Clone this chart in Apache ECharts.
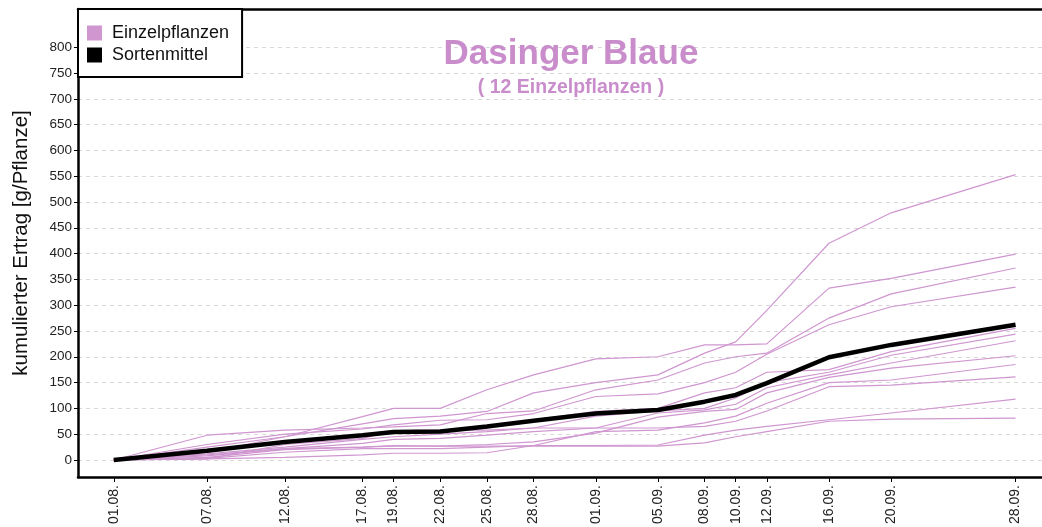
<!DOCTYPE html>
<html>
<head>
<meta charset="utf-8">
<script src="https://cdn.jsdelivr.net/npm/echarts@6/dist/echarts.min.js"></script>
<style>
html,body{margin:0;padding:0;background:#fff;}
#chart{width:1042px;height:527px;}
</style>
</head>
<body>
<div id="chart"></div>
<script>
// ---- data ----
const dateLabels = ['01.08.','07.08.','12.08.','17.08.','19.08.','22.08.','25.08.','28.08.','01.09.','05.09.','08.09.','10.09.','12.09.','16.09.','20.09.','28.09.'];
const dayOffsets = [0,6,11,16,18,21,24,27,31,35,38,40,42,46,50,58];
const yTicks = [0,50,100,150,200,250,300,350,400,450,500,550,600,650,700,750,800];

const plant01 = [0,25,45,70,80,85,94,130,150,165,207,229,290,420,479,553];
const plant02 = [0,15,45,84,100,100,136,165,196,200,223,223,225,333,352,399];
const plant03 = [0,48,58,62,64,68,90,95,136,155,188,200,207,275,322,372];
const plant04 = [0,30,50,60,68,77,78,90,123,128,150,170,205,262,297,335];
const plant05 = [0,20,35,48,54,55,62,78,94,100,130,140,170,175,210,255];
const plant06 = [0,12,25,40,45,50,55,62,85,95,100,120,150,170,203,244];
const plant07 = [0,8,22,32,40,42,48,55,62,91,97,108,140,165,188,231];
const plant08 = [0,5,20,25,28,27,30,35,52,83,94,98,130,160,178,202];
const plant09 = [0,3,15,22,22,22,25,28,55,58,72,85,110,150,155,185];
const plant10 = [0,2,30,42,57,58,58,62,62,62,65,75,95,142,145,161];
const plant11 = [0,2,5,10,13,13,14,28,28,29,48,58,65,78,91,118];
const plant12 = [0,10,22,25,27,27,27,27,27,27,33,45,55,75,79,81];
const plants = [plant01,plant02,plant03,plant04,plant05,plant06,plant07,plant08,plant09,plant10,plant11,plant12];
const meanValues = [0,18,35,48,54,55,65,76,90,97,113,126,149,199,223,262];

// ---- chart ----
const PINK = '#cf96d0';
const FONT = 'Liberation Sans, Arial, sans-serif';
const toPts = vals => dayOffsets.map((d,i)=>[d, vals[i]]);

const series = plants.map(p => ({
  name: 'Einzelpflanzen', type: 'line', data: toPts(p), showSymbol: false, symbol: 'none',
  lineStyle: {color: PINK, width: 1.2}, itemStyle: {color: PINK}, z: 2, silent: true
}));
series.push({
  name: 'Sortenmittel', type: 'line', data: toPts(meanValues), showSymbol: false, symbol: 'none',
  lineStyle: {color: '#000', width: 4.5}, itemStyle: {color: '#000'}, z: 3, silent: true
});

const chart = echarts.init(document.getElementById('chart'), null, {renderer: 'canvas'});
chart.setOption({
  animation: false,
  backgroundColor: '#fff',
  textStyle: {fontFamily: FONT},
  title: {
    text: 'Dasinger Blaue',
    subtext: '( 12 Einzelpflanzen )',
    left: 566, top: 32, textAlign: 'center', itemGap: 6,
    textStyle: {fontFamily: FONT, fontSize: 35, fontWeight: 'bold', color: '#c98dcc'},
    subtextStyle: {fontFamily: FONT, fontSize: 19.5, fontWeight: 'bold', color: '#c98dcc'}
  },
  legend: {
    data: [{name:'Einzelpflanzen', icon:'rect', itemStyle:{color:PINK}}, {name:'Sortenmittel', icon:'rect', itemStyle:{color:'#000'}}],
    orient: 'vertical', left: 78, top: 9,
    padding: [15, 13, 13, 9], itemGap: 4, itemWidth: 15, itemHeight: 15,
    borderColor: '#000', borderWidth: 2, backgroundColor: '#fff',
    textStyle: {fontFamily: FONT, fontSize: 18, color: '#111', lineHeight: 18, padding: [0,0,0,5]},
    selectedMode: false, z: 10
  },
  grid: {left: 78, top: 9, right: 0, bottom: 50, containLabel: false, outerBoundsMode: 'none'},
  xAxis: [{
    type: 'value', min: -2.3, max: 59.7,
    axisLine: {show: true, onZero: false, lineStyle: {color: '#000', width: 2.5}},
    axisTick: {show: true, customValues: dayOffsets, length: 5, lineStyle: {color: '#000', width: 1}},
    axisLabel: {customValues: dayOffsets, rotate: 90, fontSize: 14, color: '#222', fontFamily: FONT, margin: 8,
      formatter: v => dateLabels[dayOffsets.indexOf(v)] || ''},
    splitLine: {show: false}
  }, {
    type: 'value', position: 'top', min: -2.3, max: 59.7,
    axisLine: {show: true, onZero: false, lineStyle: {color: '#000', width: 2.5}},
    axisTick: {show: false}, axisLabel: {show: false}, splitLine: {show: false}
  }],
  yAxis: {
    type: 'value', min: -33, max: 874,
    name: 'kumulierter Ertrag [g/Pflanze]', nameLocation: 'middle', nameGap: 46, nameRotate: 90,
    nameTextStyle: {fontFamily: FONT, fontSize: 20.5, color: '#111'},
    axisLine: {show: true, onZero: false, lineStyle: {color: '#000', width: 2.5}},
    axisTick: {show: true, customValues: yTicks, length: 4, lineStyle: {color: '#000'}},
    axisLabel: {customValues: yTicks, fontSize: 13.5, color: '#222', fontFamily: FONT, margin: 6},
    splitLine: {show: true, lineStyle: {color: '#d8d8d8', type: [4,4], width: 1}}
  },
  series: series
});
</script>
</body>
</html>
